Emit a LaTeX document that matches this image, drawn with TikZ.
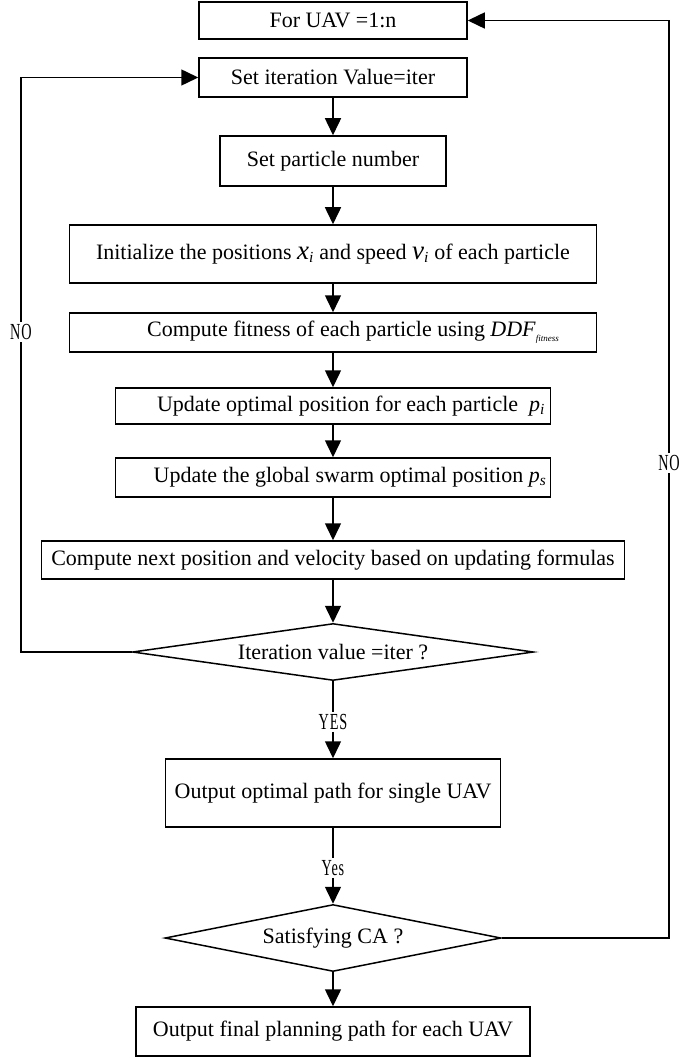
\documentclass[tikz,border=0pt]{standalone}
\usepackage{fontspec}
\setmainfont{Liberation Serif}
\newfontfamily\yesnofont[FakeStretch=0.62,LetterSpace=4]{Liberation Serif}
\usetikzlibrary{shapes.geometric,arrows.meta}
\newcommand{\vsub}[2]{{\fontsize{27}{27}\selectfont\textit{#1}}\textsubscript{\textit{#2}}}
\newcommand{\psub}[1]{\textit{p}\textsubscript{\textit{#1}}}
\tikzset{
  procbox/.style={draw, line width=1.5pt, inner sep=0pt},
  decision/.style={draw, diamond, line width=1.5pt, inner sep=0pt, aspect=6},
  yesno/.style={fill=white, inner sep=2pt, font=\yesnofont\fontsize{23}{23}\selectfont},
  flow/.style={line width=1.5pt, -{Triangle[length=17pt,width=16pt]}}
}
\begin{document}
\begin{tikzpicture}[x=1pt, y=-1pt, font=\fontsize{22}{26}\selectfont]
  \useasboundingbox (0,0) rectangle (699,1059);
  \node[procbox, minimum width=268pt, minimum height=37pt] (uav) at (333,20.5) {For UAV =1:n};
  \node[procbox, minimum width=268pt, minimum height=39pt] (iter) at (333,77.5) {Set iteration Value=iter};
  \node[procbox, minimum width=226pt, minimum height=50pt] (num) at (333,161) {Set particle number};
  \node[procbox, minimum width=527pt, minimum height=58pt] (init) at (333,254)
    {Initialize the positions \vsub{x}{i} and speed \vsub{v}{i} of each particle};
  \node[procbox, minimum width=527pt, minimum height=39pt] (fit) at (333,332.5)
    {\hspace{40pt}Compute fitness of each particle using \textit{DDF}\raisebox{-5pt}{\fontsize{9}{9}\selectfont\textit{fitness}}};
  \node[procbox, minimum width=435pt, minimum height=36pt] (pbest) at (333,406)
    {\hspace{36pt}Update optimal position for each particle\enspace\psub{i}};
  \node[procbox, minimum width=435pt, minimum height=39pt] (gbest) at (333,477.5)
    {\hspace{34pt}Update the global swarm optimal position \psub{s}};
  \node[procbox, minimum width=583pt, minimum height=38pt] (next) at (333,560)
    {Compute next position and velocity based on updating formulas};
  \node[decision, minimum width=401pt, minimum height=57pt] (done) at (333,652) {Iteration value =iter ?};
  \node[procbox, minimum width=335pt, minimum height=68pt] (path) at (333,793) {Output optimal path for single UAV};
  \node[decision, minimum width=336pt, minimum height=67pt] (ca) at (333,938) {Satisfying CA ?};
  \node[procbox, minimum width=394pt, minimum height=49pt] (final) at (333,1031.5) {Output final planning path for each UAV};
  \node[yesno] (noL) at (21,332) {NO};
  \node[yesno] (noR) at (669,463) {NO};
  \node[yesno] (yes1) at (333,722) {YES};
  \node[yesno] (yes2) at (333,868) {Yes};
  \begin{scope}[flow]
    \draw (iter) -- (num);
    \draw (num) -- (init);
    \draw (init) -- (fit);
    \draw (fit) -- (pbest);
    \draw (pbest) -- (gbest);
    \draw (gbest) -- (next);
    \draw (next) -- (done);
    \draw (yes1) -- (path);
    \draw (yes2) -- (ca);
    \draw (ca) -- (final);
    \draw (noL.north) |- (iter.west);
    \draw (noR.north) |- (uav.east);
  \end{scope}
  \begin{scope}[line width=1.5pt]
    \draw (done) -- (yes1);
    \draw (path) -- (yes2);
    \draw (done.west) -| (noL.south);
    \draw (ca.east) -| (noR.south);
  \end{scope}
\end{tikzpicture}
\end{document}
